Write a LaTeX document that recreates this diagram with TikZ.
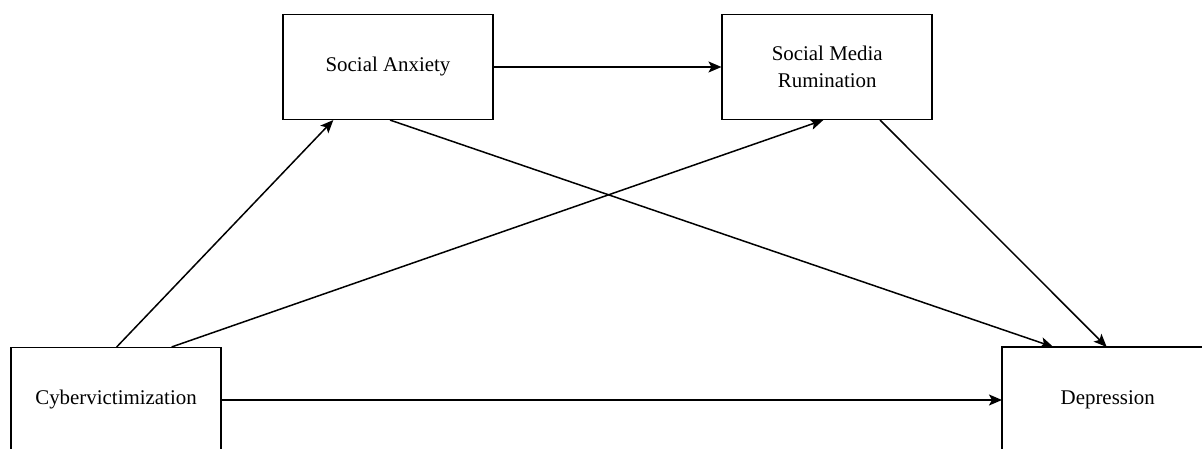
\documentclass[tikz,border=0pt]{standalone}
\usepackage{fontspec}
\setmainfont{Liberation Serif}
\usetikzlibrary{arrows.meta}
\begin{document}
\begin{tikzpicture}[x=1pt,y=-1pt,
  varfont/.style={font=\fontsize{20.9}{26.7}\selectfont},
  boxline/.style={draw=black,line width=1.5pt},
  varbox/.style={boxline,fill=white,minimum width=210pt,
    minimum height=104.6pt,inner sep=0pt,align=center,varfont},
  path/.style={line width=1.5pt,-{Stealth[length=13pt,width=11pt,inset=3pt]}}]
  \useasboundingbox (0,0) rectangle (1202,449);
  \clip (0,0) rectangle (1202,449);
  \fill[white] (0,0) rectangle (1202,449);

  % variables
  \node[varbox] (sa)  at (388,67)    {Social Anxiety};
  \node[varbox] (smr) at (827.2,67)  {Social Media\\Rumination};
  \node[varbox] (cyb) at (116,400)   {Cybervictimization};
  % the outcome box runs off the right and bottom edges: only its
  % top and left sides are drawn
  \node[varbox,draw=none] (dep) at (1107.7,400) {Depression};
  \draw[boxline,line cap=rect]
    ([xshift=30pt]dep.north east) -- (dep.north west) -- ([yshift=-20pt]dep.south west);

  % paths
  \draw[path] ([xshift=0.7pt]cyb.north)  -- ([xshift=-54.7pt]sa.south);
  \draw[path] ([xshift=55.7pt]cyb.north) -- ([xshift=-3.9pt]smr.south);
  \draw[path] ([xshift=2pt]sa.south)     -- ([xshift=-54.4pt]dep.north);
  \draw[path] ([xshift=52.8pt]smr.south) -- ([xshift=-1pt]dep.north);
  \draw[path] (sa.east)  -- (smr.west);
  \draw[path] (cyb.east) -- (dep.west);
\end{tikzpicture}
\end{document}
